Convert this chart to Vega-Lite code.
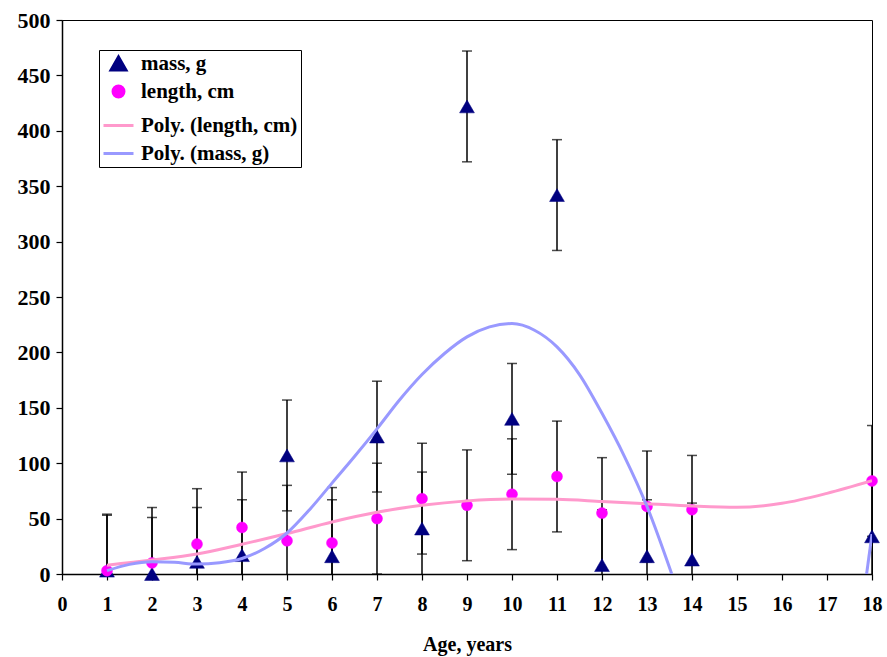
{
  "$schema": "https://vega.github.io/schema/vega-lite/v6.json",
  "width": 810,
  "height": 554,
  "autosize": {"type": "none"},
  "padding": {"left": 62, "top": 20, "right": 15, "bottom": 83},
  "background": "white",
  "config": {
    "view": {"stroke": "black", "strokeWidth": 1},
    "font": "Liberation Serif",
    "axis": {
      "grid": false,
      "domainColor": "black",
      "domainWidth": 1.5,
      "tickColor": "black",
      "tickWidth": 1.2,
      "tickSize": 6,
      "labelFont": "Liberation Serif",
      "labelFontWeight": "bold",
      "labelColor": "black",
      "titleFont": "Liberation Serif",
      "titleFontWeight": "bold",
      "titleColor": "black"
    },
    "legend": {
      "title": null,
      "orient": "none",
      "legendX": 37,
      "legendY": 30,
      "padding": 3,
      "strokeColor": "black",
      "fillColor": "white",
      "rowPadding": 0,
      "gridAlign": "all",
      "labelOffset": 6,
      "labelFont": "Liberation Serif",
      "labelFontWeight": "bold",
      "labelFontSize": 21,
      "labelColor": "black",
      "labelLimit": 400,
      "symbolStrokeWidth": 3,
      "symbolOpacity": 1
    }
  },
  "datasets": {
    "obs": [
      {"age": 1, "series": "mass, g", "value": 3, "lo": -47, "hi": 53},
      {"age": 2, "series": "mass, g", "value": 0, "lo": -50, "hi": 51},
      {"age": 3, "series": "mass, g", "value": 11, "lo": -39, "hi": 60},
      {"age": 4, "series": "mass, g", "value": 17, "lo": -33, "hi": 67},
      {"age": 5, "series": "mass, g", "value": 107, "lo": 57, "hi": 157},
      {"age": 6, "series": "mass, g", "value": 16, "lo": -34, "hi": 67},
      {"age": 7, "series": "mass, g", "value": 124, "lo": 74, "hi": 174},
      {"age": 8, "series": "mass, g", "value": 41, "lo": -9, "hi": 92},
      {"age": 9, "series": "mass, g", "value": 422, "lo": 372, "hi": 472},
      {"age": 10, "series": "mass, g", "value": 140, "lo": 90, "hi": 190},
      {"age": 11, "series": "mass, g", "value": 342, "lo": 292, "hi": 392},
      {"age": 12, "series": "mass, g", "value": 8, "lo": -42, "hi": 58},
      {"age": 13, "series": "mass, g", "value": 16, "lo": -34, "hi": 67},
      {"age": 14, "series": "mass, g", "value": 13, "lo": -37, "hi": 64},
      {"age": 18, "series": "mass, g", "value": 34, "lo": -16, "hi": 84},
      {"age": 1, "series": "length, cm", "value": 3, "lo": -47, "hi": 54},
      {"age": 2, "series": "length, cm", "value": 10, "lo": -40, "hi": 60},
      {"age": 3, "series": "length, cm", "value": 27, "lo": -23, "hi": 77},
      {"age": 4, "series": "length, cm", "value": 42, "lo": -8, "hi": 92},
      {"age": 5, "series": "length, cm", "value": 30, "lo": -20, "hi": 80},
      {"age": 6, "series": "length, cm", "value": 28, "lo": -22, "hi": 78},
      {"age": 7, "series": "length, cm", "value": 50, "lo": 0, "hi": 100},
      {"age": 8, "series": "length, cm", "value": 68, "lo": 18, "hi": 118},
      {"age": 9, "series": "length, cm", "value": 62, "lo": 12, "hi": 112},
      {"age": 10, "series": "length, cm", "value": 72, "lo": 22, "hi": 122},
      {"age": 11, "series": "length, cm", "value": 88, "lo": 38, "hi": 138},
      {"age": 12, "series": "length, cm", "value": 55, "lo": 5, "hi": 105},
      {"age": 13, "series": "length, cm", "value": 61, "lo": 11, "hi": 111},
      {"age": 14, "series": "length, cm", "value": 58, "lo": 8, "hi": 107},
      {"age": 18, "series": "length, cm", "value": 84, "lo": 34, "hi": 134}
    ],
    "poly": [
      {"age": 1, "series": "Poly. (length, cm)", "seg": "L", "value": 8},
      {"age": 2, "series": "Poly. (length, cm)", "seg": "L", "value": 12.6},
      {"age": 3, "series": "Poly. (length, cm)", "seg": "L", "value": 18},
      {"age": 4, "series": "Poly. (length, cm)", "seg": "L", "value": 26.8},
      {"age": 5, "series": "Poly. (length, cm)", "seg": "L", "value": 36.5},
      {"age": 6, "series": "Poly. (length, cm)", "seg": "L", "value": 47},
      {"age": 7, "series": "Poly. (length, cm)", "seg": "L", "value": 55.7},
      {"age": 8, "series": "Poly. (length, cm)", "seg": "L", "value": 62},
      {"age": 9, "series": "Poly. (length, cm)", "seg": "L", "value": 66},
      {"age": 10, "series": "Poly. (length, cm)", "seg": "L", "value": 67.7},
      {"age": 11, "series": "Poly. (length, cm)", "seg": "L", "value": 67.4},
      {"age": 12, "series": "Poly. (length, cm)", "seg": "L", "value": 65.5},
      {"age": 13, "series": "Poly. (length, cm)", "seg": "L", "value": 63.5},
      {"age": 14, "series": "Poly. (length, cm)", "seg": "L", "value": 61.4},
      {"age": 15, "series": "Poly. (length, cm)", "seg": "L", "value": 60.2},
      {"age": 16, "series": "Poly. (length, cm)", "seg": "L", "value": 63.8},
      {"age": 17, "series": "Poly. (length, cm)", "seg": "L", "value": 72.8},
      {"age": 18, "series": "Poly. (length, cm)", "seg": "L", "value": 84.2},
      {"age": 1, "series": "Poly. (mass, g)", "seg": "M1", "value": 3},
      {"age": 1.5, "series": "Poly. (mass, g)", "seg": "M1", "value": 8.7},
      {"age": 2, "series": "Poly. (mass, g)", "seg": "M1", "value": 11},
      {"age": 2.5, "series": "Poly. (mass, g)", "seg": "M1", "value": 10.5},
      {"age": 3, "series": "Poly. (mass, g)", "seg": "M1", "value": 9},
      {"age": 3.5, "series": "Poly. (mass, g)", "seg": "M1", "value": 10.2},
      {"age": 4, "series": "Poly. (mass, g)", "seg": "M1", "value": 14},
      {"age": 4.5, "series": "Poly. (mass, g)", "seg": "M1", "value": 23},
      {"age": 5, "series": "Poly. (mass, g)", "seg": "M1", "value": 37},
      {"age": 5.5, "series": "Poly. (mass, g)", "seg": "M1", "value": 58},
      {"age": 6, "series": "Poly. (mass, g)", "seg": "M1", "value": 82},
      {"age": 6.5, "series": "Poly. (mass, g)", "seg": "M1", "value": 106},
      {"age": 7, "series": "Poly. (mass, g)", "seg": "M1", "value": 131},
      {"age": 7.5, "series": "Poly. (mass, g)", "seg": "M1", "value": 157},
      {"age": 8, "series": "Poly. (mass, g)", "seg": "M1", "value": 180},
      {"age": 8.5, "series": "Poly. (mass, g)", "seg": "M1", "value": 199},
      {"age": 9, "series": "Poly. (mass, g)", "seg": "M1", "value": 214},
      {"age": 9.5, "series": "Poly. (mass, g)", "seg": "M1", "value": 223},
      {"age": 10, "series": "Poly. (mass, g)", "seg": "M1", "value": 226},
      {"age": 10.5, "series": "Poly. (mass, g)", "seg": "M1", "value": 220},
      {"age": 11, "series": "Poly. (mass, g)", "seg": "M1", "value": 205},
      {"age": 11.5, "series": "Poly. (mass, g)", "seg": "M1", "value": 180},
      {"age": 12, "series": "Poly. (mass, g)", "seg": "M1", "value": 145},
      {"age": 12.5, "series": "Poly. (mass, g)", "seg": "M1", "value": 106},
      {"age": 13, "series": "Poly. (mass, g)", "seg": "M1", "value": 61},
      {"age": 13.55, "series": "Poly. (mass, g)", "seg": "M1", "value": 0},
      {"age": 17.88, "series": "Poly. (mass, g)", "seg": "M2", "value": 0},
      {"age": 18, "series": "Poly. (mass, g)", "seg": "M2", "value": 36}
    ]
  },
  "encoding": {
    "x": {
      "field": "age",
      "type": "quantitative",
      "scale": {"domain": [0, 18], "nice": false, "zero": false},
      "axis": {
        "title": "Age, years",
        "values": [0, 1, 2, 3, 4, 5, 6, 7, 8, 9, 10, 11, 12, 13, 14, 15, 16, 17, 18],
        "labelFontSize": 20,
        "labelPadding": 14,
        "titleFontSize": 20,
        "titlePadding": 20,
        "labelFlush": false,
        "labelOverlap": false
      }
    }
  },
  "layer": [
    {
      "data": {"name": "obs"},
      "mark": {"type": "rule", "color": "black", "strokeWidth": 1.5, "clip": true},
      "encoding": {
        "y": {
          "field": "lo",
          "type": "quantitative",
          "scale": {"domain": [0, 500], "nice": false},
          "axis": {
            "title": null,
            "values": [0, 50, 100, 150, 200, 250, 300, 350, 400, 450, 500],
            "labelFontSize": 22,
            "labelPadding": 6,
            "labelFlush": false,
            "labelOverlap": false
          }
        },
        "y2": {"field": "hi"}
      }
    },
    {
      "data": {"name": "obs"},
      "mark": {"type": "tick", "orient": "horizontal", "color": "black", "size": 10, "thickness": 1.5, "clip": true},
      "encoding": {"y": {"field": "hi", "type": "quantitative"}}
    },
    {
      "data": {"name": "obs"},
      "mark": {"type": "tick", "orient": "horizontal", "color": "black", "size": 10, "thickness": 1.5, "clip": true},
      "encoding": {"y": {"field": "lo", "type": "quantitative"}}
    },
    {
      "data": {"name": "obs"},
      "mark": {"type": "point", "filled": true, "opacity": 1, "strokeWidth": 0.5},
      "encoding": {
        "y": {"field": "value", "type": "quantitative"},
        "color": {
          "field": "series",
          "type": "nominal",
          "scale": {
            "domain": ["mass, g", "length, cm", "Poly. (length, cm)", "Poly. (mass, g)"],
            "range": ["#000080", "#FF00FF", "#FF99CC", "#9999FF"]
          }
        },
        "stroke": {
          "field": "series",
          "type": "nominal",
          "scale": {
            "domain": ["mass, g", "length, cm", "Poly. (length, cm)", "Poly. (mass, g)"],
            "range": ["#000080", "#FF00FF", "#FF99CC", "#9999FF"]
          }
        },
        "shape": {
          "field": "series",
          "type": "nominal",
          "scale": {
            "domain": ["mass, g", "length, cm", "Poly. (length, cm)", "Poly. (mass, g)"],
            "range": ["triangle-up", "circle", "stroke", "stroke"]
          }
        },
        "size": {
          "field": "series",
          "type": "nominal",
          "scale": {
            "type": "ordinal",
            "domain": ["mass, g", "length, cm", "Poly. (length, cm)", "Poly. (mass, g)"],
            "range": [220, 120, 900, 900]
          }
        }
      }
    },
    {
      "data": {"name": "poly"},
      "mark": {"type": "line", "strokeWidth": 3, "interpolate": "monotone", "clip": true},
      "encoding": {
        "y": {"field": "value", "type": "quantitative"},
        "stroke": {"field": "series", "type": "nominal"},
        "detail": {"field": "seg", "type": "nominal"}
      }
    }
  ]
}
